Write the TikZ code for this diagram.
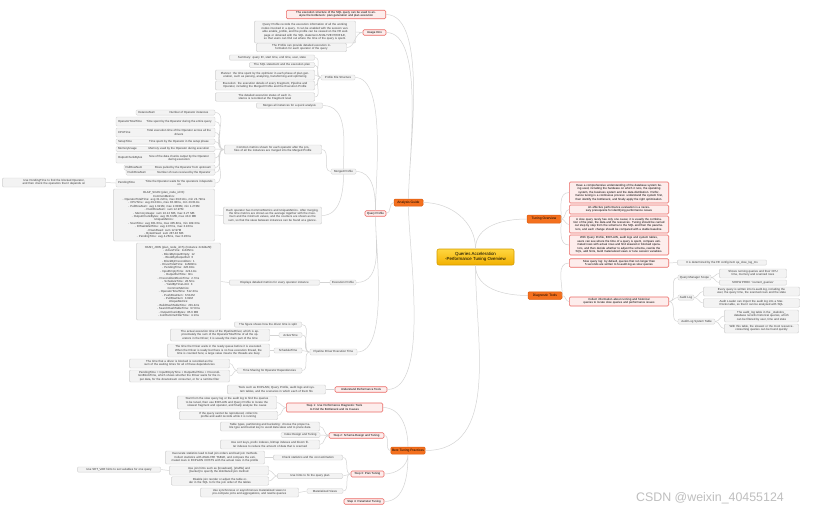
\documentclass[tikz,border=0pt]{standalone}
\usepackage{fontspec}
\setmainfont{Liberation Sans}
\usetikzlibrary{positioning}

\definecolor{gfill}{HTML}{F3F3F3}
\definecolor{gline}{HTML}{D0D0D0}
\definecolor{rfill}{HTML}{FDEDEC}
\definecolor{rline}{HTML}{EB6A65}
\definecolor{ofill}{HTML}{F4701E}
\definecolor{oline}{HTML}{D95B10}
\definecolor{ytop}{HTML}{FFD640}
\definecolor{ybot}{HTML}{F2B000}
\definecolor{yline}{HTML}{D49C00}
\definecolor{linkc}{HTML}{D4D4D4}
\definecolor{txt}{HTML}{3A3A3A}

% key + description inside one metric box
\newcommand{\metric}[3][68pt]{\parbox[c]{27pt}{\raggedright #2}\parbox[c]{#1}{\centering #3}}

\tikzset{
  every node/.style={inner sep=1.2pt, rounded corners=1.2pt, align=center, text=txt,
    font=\fontsize{2.9}{3.4}\selectfont},
  gbox/.style={draw=gline, fill=gfill, line width=0.4pt},
  rbox/.style={draw=rline, fill=rfill, line width=0.6pt, text=black},
  obox/.style={draw=oline, fill=ofill, line width=0.5pt, text=black, font=\fontsize{3.3}{3.8}\selectfont},
  rootbox/.style={draw=yline, top color=ytop, bottom color=ybot, line width=0.6pt, text=black,
    rounded corners=2pt, font=\fontsize{4.4}{5.4}\selectfont},
  link/.style={draw=linkc, line width=0.5pt},
}

\begin{document}
\begin{tikzpicture}[x=1pt, y=-1pt]
    \fill[white] (0,0) rectangle (833,515);
    \useasboundingbox (0,0) rectangle (833,515);

    % Root and main branches
    \node[rootbox, minimum width=77pt, minimum height=16pt] (root) at (475.5,257) {Queries Acceleration\\-Performance Tuning Overview};
    \node[obox, minimum width=29pt, minimum height=7pt] (guide) at (408.5,202.5) {Analysis Guide};
    \node[obox, minimum width=34pt, minimum height=8pt] (tuning) at (544,219) {Tuning Overview};
    \node[obox, minimum width=34pt, minimum height=7.5pt] (diag) at (545,295.5) {Diagnostic Tools};
    \node[obox, minimum width=32pt, minimum height=7pt] (best) at (408,450.5) {Best Tuning Practices};

    % Analysis guide: top
    \node[rbox, text width=97pt, minimum height=8pt] (plan) at (336,14.5) {The execution structure of the SQL query can be used to analyze the bottleneck: plan generation and plan execution};
    \node[rbox, minimum width=23pt, minimum height=5.5pt] (intro) at (374.5,32.5) {Usage Intro};
    \node[gbox, text width=99pt, minimum height=22pt] (introa) at (305,32) {Query Profile records the execution information of all the working nodes involved in a query. It can be enabled with the session variable enable\_profile, and the profile can be viewed on the FE web page or obtained with the SQL statement ANALYZE PROFILE, so that users can find out where the time of the query is spent.};
    \node[gbox, text width=88pt, minimum height=7pt] (introb) at (301.5,47.5) {The Profile can provide detailed execution information for each operator of the query};

    % Query profile
    \node[rbox, minimum width=21pt, minimum height=5.5pt] (qprof) at (375.5,213.5) {Query Profile};

    \node[gbox, minimum width=34pt, minimum height=5pt] (pfs) at (338,77.5) {Profile File Structure};
    \node[gbox, text width=83pt, minimum height=5pt] (pfsa) at (272,57.5) {Summary: query ID, start time, end time, user, state};
    \node[gbox, text width=63pt, minimum height=5pt] (pfsb) at (282,65) {The SQL statement and the execution plan};
    \node[gbox, text width=97pt, minimum height=10pt] (pfsc) at (265,75) {Planner: the time spent by the optimizer in each phase of plan generation, such as parsing, analyzing, transforming and optimizing};
    \node[gbox, text width=97pt, minimum height=9pt] (pfsd) at (265,85.5) {Execution: the execution details of every Fragment, Pipeline and Operator, including the Merged Profile and the Execution Profile};
    \node[gbox, text width=97pt, minimum height=8pt] (pfse) at (265,97) {The detailed execution status of each instance is recorded at the Fragment level};

    \node[gbox, minimum width=25pt, minimum height=5pt] (merged) at (343.5,171.5) {Merged Profile};
    \node[gbox, text width=64pt, minimum height=5pt] (mga) at (289.5,105.5) {Merges all instances for a quick analysis};
    \node[gbox, text width=95pt, minimum height=9pt] (ops) at (273,149.5) {Common metrics shown for each operator after the profiles of all the instances are merged into the Merged Profile};
    \node[gbox, text width=96pt, minimum height=17pt] (each) at (272.5,215.5) {Each operator has CommonMetrics and UniqueMetrics. After merging, the time metrics are shown as the average together with the maximum and the minimum values, and the counters are shown as the sum, so that the skew between instances can be found at a glance.};

    \node[gbox, minimum width=79pt, minimum height=5pt] (ma) at (175.5,112.5) {\metric[48pt]{InstanceNum}{Number of Operator instances}};
    \node[gbox, minimum width=99pt, minimum height=9pt] (mb) at (165.5,121.5) {\metric{OperatorTotalTime}{Time spent by the Operator during the entire query}};
    \node[gbox, minimum width=99pt, minimum height=9pt] (mc) at (165.5,132.5) {\metric{CPUTime}{Total execution time of the Operator across all the drivers}};
    \node[gbox, minimum width=99pt, minimum height=5pt] (md) at (165.5,141.5) {\metric{SetupTime}{Time spent by the Operator in the setup phase}};
    \node[gbox, minimum width=99pt, minimum height=4.5pt] (me) at (165.5,149) {\metric{MemoryUsage}{Memory used by the Operator during execution}};
    \node[gbox, minimum width=99pt, minimum height=10pt] (mf) at (165.5,158) {\metric{OutputChunkBytes}{Size of the data chunks output by the Operator during execution}};
    \node[gbox, minimum width=91pt, minimum height=5pt] (mg) at (169.5,167.5) {\metric[61pt]{PullRowNum}{Rows pulled by the Operator from upstream}};
    \node[gbox, minimum width=89pt, minimum height=5pt] (mh) at (170.5,172.5) {\metric[59pt]{PushRowNum}{Number of rows received by the Operator}};
    \node[gbox, minimum width=99pt, minimum height=8pt] (mi) at (165.5,183) {\metric{PendingTime}{Time the Operator waits for the operators it depends on}};
    \node[gbox, text width=101pt, minimum height=9pt] (mtip) at (54,182.5) {Use PendingTime to find the blocked Operator, and then check the operators that it depends on};

    \node[gbox, text width=99pt, minimum height=52pt] (big1) at (164,215) {OLAP\_SCAN (plan\_node\_id=0):\\CommonMetrics:\\- OperatorTotalTime: avg 31.22ms, max 39.61ms, min 24.79ms\\- CPUTime: avg 29.23ms, max 36.38ms, min 23.01ms\\- PullRowNum: avg 1.621M, max 2.003M, min 1.273M\\- PushRowNum: sum 12.97M\\- MemoryUsage: sum 24.12 MB, max 3.27 MB\\- OutputChunkBytes: avg 35.6 MB, max 43.9 MB\\UniqueMetrics:\\- ScanTime: avg 301.6ms, max 405.8ms, min 189.3ms\\- IOTaskWaitTime: avg 2.07ms, max 3.16ms\\- RowsRead: sum 12.97M\\- BytesRead: sum 287.46 MB\\- PendingTime: avg 4.26ms, max 6.20ms};

    \node[gbox, minimum width=26pt, minimum height=5pt] (execp) at (343,282.5) {Execution Profile};
    \node[gbox, text width=88pt, minimum height=5pt] (disp) at (274.5,282.5) {Displays detailed metrics for every operator instance};
    \node[gbox, text width=82pt, minimum height=77pt] (big2) at (178.5,281.5) {HASH\_JOIN (plan\_node\_id=5) (Instance 2c3d4e5f):\\- ActiveTime: 1s325ms\\- BlockByInputEmpty: 12\\- BlockByOutputFull: 0\\- BlockByPrecondition: 1\\- DriverTotalTime: 1s580ms\\- PendingTime: 226.8ms\\- InputEmptyTime: 224.1ms\\- OutputFullTime: 0ns\\- PreconditionBlockTime: 2.7ms\\- ScheduleTime: 28.5ms\\- YieldByTimeLimit: 3\\CommonMetrics:\\- OperatorTotalTime: 512.3ms\\- PushRowNum: 6.512M\\- PullRowNum: 3.02M\\UniqueMetrics:\\- BuildHashTableTime: 201.4ms\\- SearchHashTableTime: 97.8ms\\- OutputChunkBytes: 85.6 MB\\- JoinRuntimeFilterTime: 4.1ms};

    \node[gbox, minimum width=47pt, minimum height=6pt] (ptime) at (333.5,352) {Pipeline Driver Execution Time};
    \node[gbox, text width=65pt, minimum height=5pt] (pfig) at (268,324.5) {The figure shows how the driver time is split};
    \node[gbox, minimum width=23pt, minimum height=5pt] (active) at (290.5,335) {ActiveTime};
    \node[gbox, text width=97pt, minimum height=12pt] (activea) at (220,335) {The actual execution time of the PipelineDriver, which is approximately the sum of the OperatorTotalTime of all the operators in the Driver; it is usually the main part of the time};
    \node[gbox, minimum width=28pt, minimum height=5pt] (sched) at (288,350.5) {ScheduleTime};
    \node[gbox, text width=100pt, minimum height=13pt] (scheda) at (218.5,350.5) {The time the Driver waits in the ready queue before it is executed. When the Driver is ready but there is no free execution thread, the time is counted here; a large value means the threads are busy};
    \node[gbox, minimum width=65pt, minimum height=5pt] (share) at (269.5,370.5) {Time Sharing for Operator Dependencies};
    \node[gbox, text width=98pt, minimum height=9pt] (sharea) at (179.5,363.5) {The time that a driver is blocked is recorded as the sum of the waiting times for all of these dependencies};
    \node[gbox, text width=98pt, minimum height=12pt] (shareb) at (179.5,376) {PendingTime = InputEmptyTime + OutputFullTime + PreconditionBlockTime, which shows whether the Driver waits for the input data, for the downstream consumer, or for a runtime filter};

    % Analysis guide: tools
    \node[rbox, minimum width=52pt, minimum height=5.5pt] (perf) at (361,389.5) {Understand Performance Tools};
    \node[gbox, text width=96pt, minimum height=9pt] (perfa) at (276.5,389.5) {Tools such as EXPLAIN, Query Profile, audit logs and system tables, and the scenarios in which each of them fits};

    % Best practices
    \node[rbox, text width=94pt, minimum height=9pt] (step1) at (334.5,407.5) {Step 1: Use Performance Diagnostic Tools to Find the Bottleneck and its Causes};
    \node[gbox, text width=97pt, minimum height=13pt] (step1a) at (227,402.5) {Start from the slow query log or the audit log to find the queries to be tuned, then use EXPLAIN and Query Profile to locate the slowest fragment and operator, and finally analyze the cause};
    \node[gbox, text width=96pt, minimum height=7pt] (step1b) at (228.5,415.5) {If the query cannot be reproduced, collect its profile and audit records while it is running};

    \node[rbox, minimum width=55pt, minimum height=5.5pt] (step2) at (356.5,435.5) {Step 2: Schema Design and Tuning};
    \node[gbox, text width=97pt, minimum height=9pt] (step2a) at (270,426.5) {Table types, partitioning and bucketing: choose the proper table type and bucket key to avoid data skew and to prune data};
    \node[gbox, minimum width=39pt, minimum height=5pt] (step2b) at (300.5,435) {Index Design and Tuning};
    \node[gbox, text width=97pt, minimum height=9pt] (step2c) at (270,444.5) {Use sort keys, prefix indexes, bitmap indexes and bloom filter indexes to reduce the amount of data that is scanned};

    \node[rbox, minimum width=33pt, minimum height=6pt] (step3) at (367.5,474) {Step 3: Plan Tuning};
    \node[gbox, text width=67pt, minimum height=5pt] (step3a) at (308,457.5) {Check statistics and the cost estimation};
    \node[gbox, text width=97pt, minimum height=13pt] (step3aa) at (215,457.5) {Inaccurate statistics lead to bad join orders and bad join methods. Collect statistics with ANALYZE TABLE, and compare the estimated rows in EXPLAIN COSTS with the actual rows in the profile};
    \node[gbox, text width=63pt, minimum height=5pt] (step3b) at (310,476) {Use hints to fix the query plan};
    \node[gbox, text width=97pt, minimum height=9pt] (step3ba) at (219,470.5) {Use join hints such as [broadcast], [shuffle] and [bucket] to specify the distributed join method};
    \node[gbox, text width=81pt, minimum height=5pt] (step3bx) at (119,469.5) {Use SET\_VAR hints to set variables for one query};
    \node[gbox, text width=95pt, minimum height=8pt] (step3bb) at (220,481) {Disable join reorder or adjust the table order in the SQL to fix the join order of the tables};
    \node[gbox, minimum width=36pt, minimum height=5pt] (step3c) at (325,491) {Materialized Views};
    \node[gbox, text width=96pt, minimum height=9pt] (step3ca) at (249.5,492.5) {Use synchronous or asynchronous materialized views to pre-compute joins and aggregations, and rewrite queries};

    \node[rbox, minimum width=40pt, minimum height=5.5pt] (step4) at (364,501.5) {Step 4: Parameter Tuning};

    % Tuning overview
    \node[rbox, text width=97pt, minimum height=21pt] (ov1) at (619,192.5) {Have a comprehensive understanding of the database system being used, including the hardware on which it runs, the operating system, the business system and the data distribution. Performance tuning is a continuous process: understand the system first, then identify the bottleneck, and finally apply the right optimization.};
    \node[rbox, text width=97pt, minimum height=9pt] (ov2) at (619,209.5) {An effective performance evaluation is a necessary prerequisite for identifying performance issues};
    \node[rbox, text width=97pt, minimum height=17pt] (ov3) at (619,224.5) {A slow query rarely has only one cause; it is usually the combination of the plan, the data and the resources. Tuning should be carried out step by step from the schema to the SQL and then the parameters, and each change should be compared with a stable baseline.};
    \node[rbox, text width=97pt, minimum height=20pt] (ov4) at (619,245) {With Query Profile, EXPLAIN, audit logs and system tables, users can see where the time of a query is spent, compare estimated rows with actual rows and find skewed or blocked operators, and then decide whether to adjust the schema, rewrite the SQL, add hints, build materialized views or tune session variables.};

    % Diagnostic tools
    \node[rbox, text width=97pt, minimum height=8pt] (slow) at (619,263) {Slow query log: by default, queries that run longer than 5 seconds are written to fe.audit.log as slow queries};
    \node[gbox, text width=87pt, minimum height=5pt] (slowa) at (722,262.5) {It is determined by the FE config item qe\_slow\_log\_ms};
    \node[rbox, text width=97pt, minimum height=9pt] (hist) at (619,301.5) {Collect information about running and historical queries to locate slow queries and performance issues};
    \node[gbox, minimum width=33pt, minimum height=5pt] (qmgr) at (694.5,277.5) {Query Manager Scope};
    \node[gbox, text width=65pt, minimum height=9pt] (qmgra) at (753,273.5) {Shows running queries and their CPU time, memory and scanned rows};
    \node[gbox, text width=65pt, minimum height=5pt] (qmgrb) at (753,282.5) {SHOW PROC '/current\_queries'};
    \node[gbox, minimum width=16pt, minimum height=5pt] (audit) at (686,297.5) {Audit Log};
    \node[gbox, text width=94pt, minimum height=9pt] (audita) at (751.5,291.5) {Every query is written into fe.audit.log, including the user, the query time, the scanned rows and the state};
    \node[gbox, text width=94pt, minimum height=8pt] (auditb) at (751.5,303) {Audit Loader can import the audit log into a StarRocks table, so that it can be analyzed with SQL};
    \node[gbox, minimum width=37pt, minimum height=5pt] (atab) at (696.5,321.5) {Audit Log System Table};
    \node[gbox, text width=72pt, minimum height=12pt] (ataba) at (761.5,316) {The audit\_log table in the \_statistics\_ database records historical queries, which can be filtered by user, time and state};
    \node[gbox, text width=72pt, minimum height=9pt] (atabb) at (761.5,328.5) {With this table, the slowest or the most resource-consuming queries can be found quickly};

    % watermark
    \node[text=gray!50, font=\fontsize{12.4}{14}\selectfont] (mark) at (710,498) {CSDN @weixin\_40455124};

    % Links: root
    \draw[link] (root.north) to[out=90,in=0] (guide.east);
    \draw[link] (root.north) to[out=90,in=180] (tuning.west);
    \draw[link] (root.south) to[out=-90,in=180] (diag.west);
    \draw[link] (root.south) to[out=-90,in=0] (best.east);

    % Links: analysis guide
    \draw[link] (guide.north) to[out=90,in=0,looseness=0.6] (plan.east)
                (guide.north) to[out=90,in=0,looseness=0.6] (intro.east)
                (guide.west) to[out=180,in=0] (qprof.east)
                (guide.south) to[out=-90,in=0,looseness=0.6] (perf.east);
    \draw[link] (intro.west) to[out=180,in=0] (introa.east)
                (intro.west) to[out=180,in=0] (introb.east);
    \draw[link] (qprof.north) to[out=90,in=0,looseness=0.6] (pfs.east)
                (qprof.north) to[out=90,in=0] (merged.east)
                (qprof.south) to[out=-90,in=0] (execp.east)
                (qprof.south) to[out=-90,in=0,looseness=0.6] (ptime.east);
    \draw[link] (pfs.west) to[out=180,in=0] (pfsa.east)
                (pfs.west) to[out=180,in=0] (pfsb.east)
                (pfs.west) to[out=180,in=0] (pfsc.east)
                (pfs.west) to[out=180,in=0] (pfsd.east)
                (pfs.west) to[out=180,in=0] (pfse.east);
    \draw[link] (merged.north) to[out=90,in=0] (mga.east)
                (merged.west) to[out=180,in=0] (ops.east)
                (merged.south) to[out=-90,in=0] (each.east);
    \draw[link] (ops.west) to[out=180,in=0] (ma.east)
                (ops.west) to[out=180,in=0] (mb.east)
                (ops.west) to[out=180,in=0] (mc.east)
                (ops.west) to[out=180,in=0] (md.east)
                (ops.west) to[out=180,in=0] (me.east)
                (ops.west) to[out=180,in=0] (mf.east)
                (ops.west) to[out=180,in=0] (mg.east)
                (ops.west) to[out=180,in=0] (mh.east)
                (ops.west) to[out=180,in=0] (mi.east);
    \draw[link] (mi.west) to[out=180,in=0] (mtip.east);
    \draw[link] (each.west) to[out=180,in=0] (big1.east);
    \draw[link] (execp.west) to[out=180,in=0] (disp.east);
    \draw[link] (disp.west) to[out=180,in=0] (big2.east);
    \draw[link] (ptime.west) to[out=180,in=0] (pfig.east)
                (ptime.west) to[out=180,in=0] (active.east)
                (ptime.west) to[out=180,in=0] (sched.east)
                (ptime.west) to[out=180,in=0] (share.east);
    \draw[link] (active.west) to[out=180,in=0] (activea.east);
    \draw[link] (sched.west) to[out=180,in=0] (scheda.east);
    \draw[link] (share.west) to[out=180,in=0] (sharea.east)
                (share.west) to[out=180,in=0] (shareb.east);
    \draw[link] (perf.west) to[out=180,in=0] (perfa.east);

    % Links: best practices
    \draw[link] (best.north) to[out=90,in=0] (step1.east)
                (best.west) to[out=180,in=0] (step2.east)
                (best.south) to[out=-90,in=0] (step3.east)
                (best.south) to[out=-90,in=0] (step4.east);
    \draw[link] (step1.west) to[out=180,in=0] (step1a.east)
                (step1.west) to[out=180,in=0] (step1b.east);
    \draw[link] (step2.west) to[out=180,in=0] (step2a.east)
                (step2.west) to[out=180,in=0] (step2b.east)
                (step2.west) to[out=180,in=0] (step2c.east);
    \draw[link] (step3.west) to[out=180,in=0] (step3a.east)
                (step3.west) to[out=180,in=0] (step3b.east)
                (step3.west) to[out=180,in=0] (step3c.east);
    \draw[link] (step3a.west) to[out=180,in=0] (step3aa.east);
    \draw[link] (step3b.west) to[out=180,in=0] (step3ba.east)
                (step3b.west) to[out=180,in=0] (step3bb.east);
    \draw[link] (step3ba.west) to[out=180,in=0] (step3bx.east);
    \draw[link] (step3c.west) to[out=180,in=0] (step3ca.east);

    % Links: tuning overview and diagnostic tools
    \draw[link] (tuning.east) to[out=90,in=180] (ov1.west)
                (tuning.east) to[out=0,in=180] (ov2.west)
                (tuning.east) to[out=0,in=180] (ov3.west)
                (tuning.east) to[out=-90,in=180] (ov4.west);
    \draw[link] (diag.east) to[out=90,in=180] (slow.west)
                (diag.east) to[out=0,in=180] (hist.west);
    \draw[link] (slow.east) to[out=0,in=180] (slowa.west);
    \draw[link] (hist.east) to[out=0,in=180] (qmgr.west)
                (hist.east) to[out=0,in=180] (audit.west)
                (hist.east) to[out=0,in=180] (atab.west);
    \draw[link] (qmgr.east) to[out=0,in=180] (qmgra.west)
                (qmgr.east) to[out=0,in=180] (qmgrb.west);
    \draw[link] (audit.east) to[out=0,in=180] (audita.west)
                (audit.east) to[out=0,in=180] (auditb.west);
    \draw[link] (atab.east) to[out=0,in=180] (ataba.west)
                (atab.east) to[out=0,in=180] (atabb.west);
\end{tikzpicture}
\end{document}
